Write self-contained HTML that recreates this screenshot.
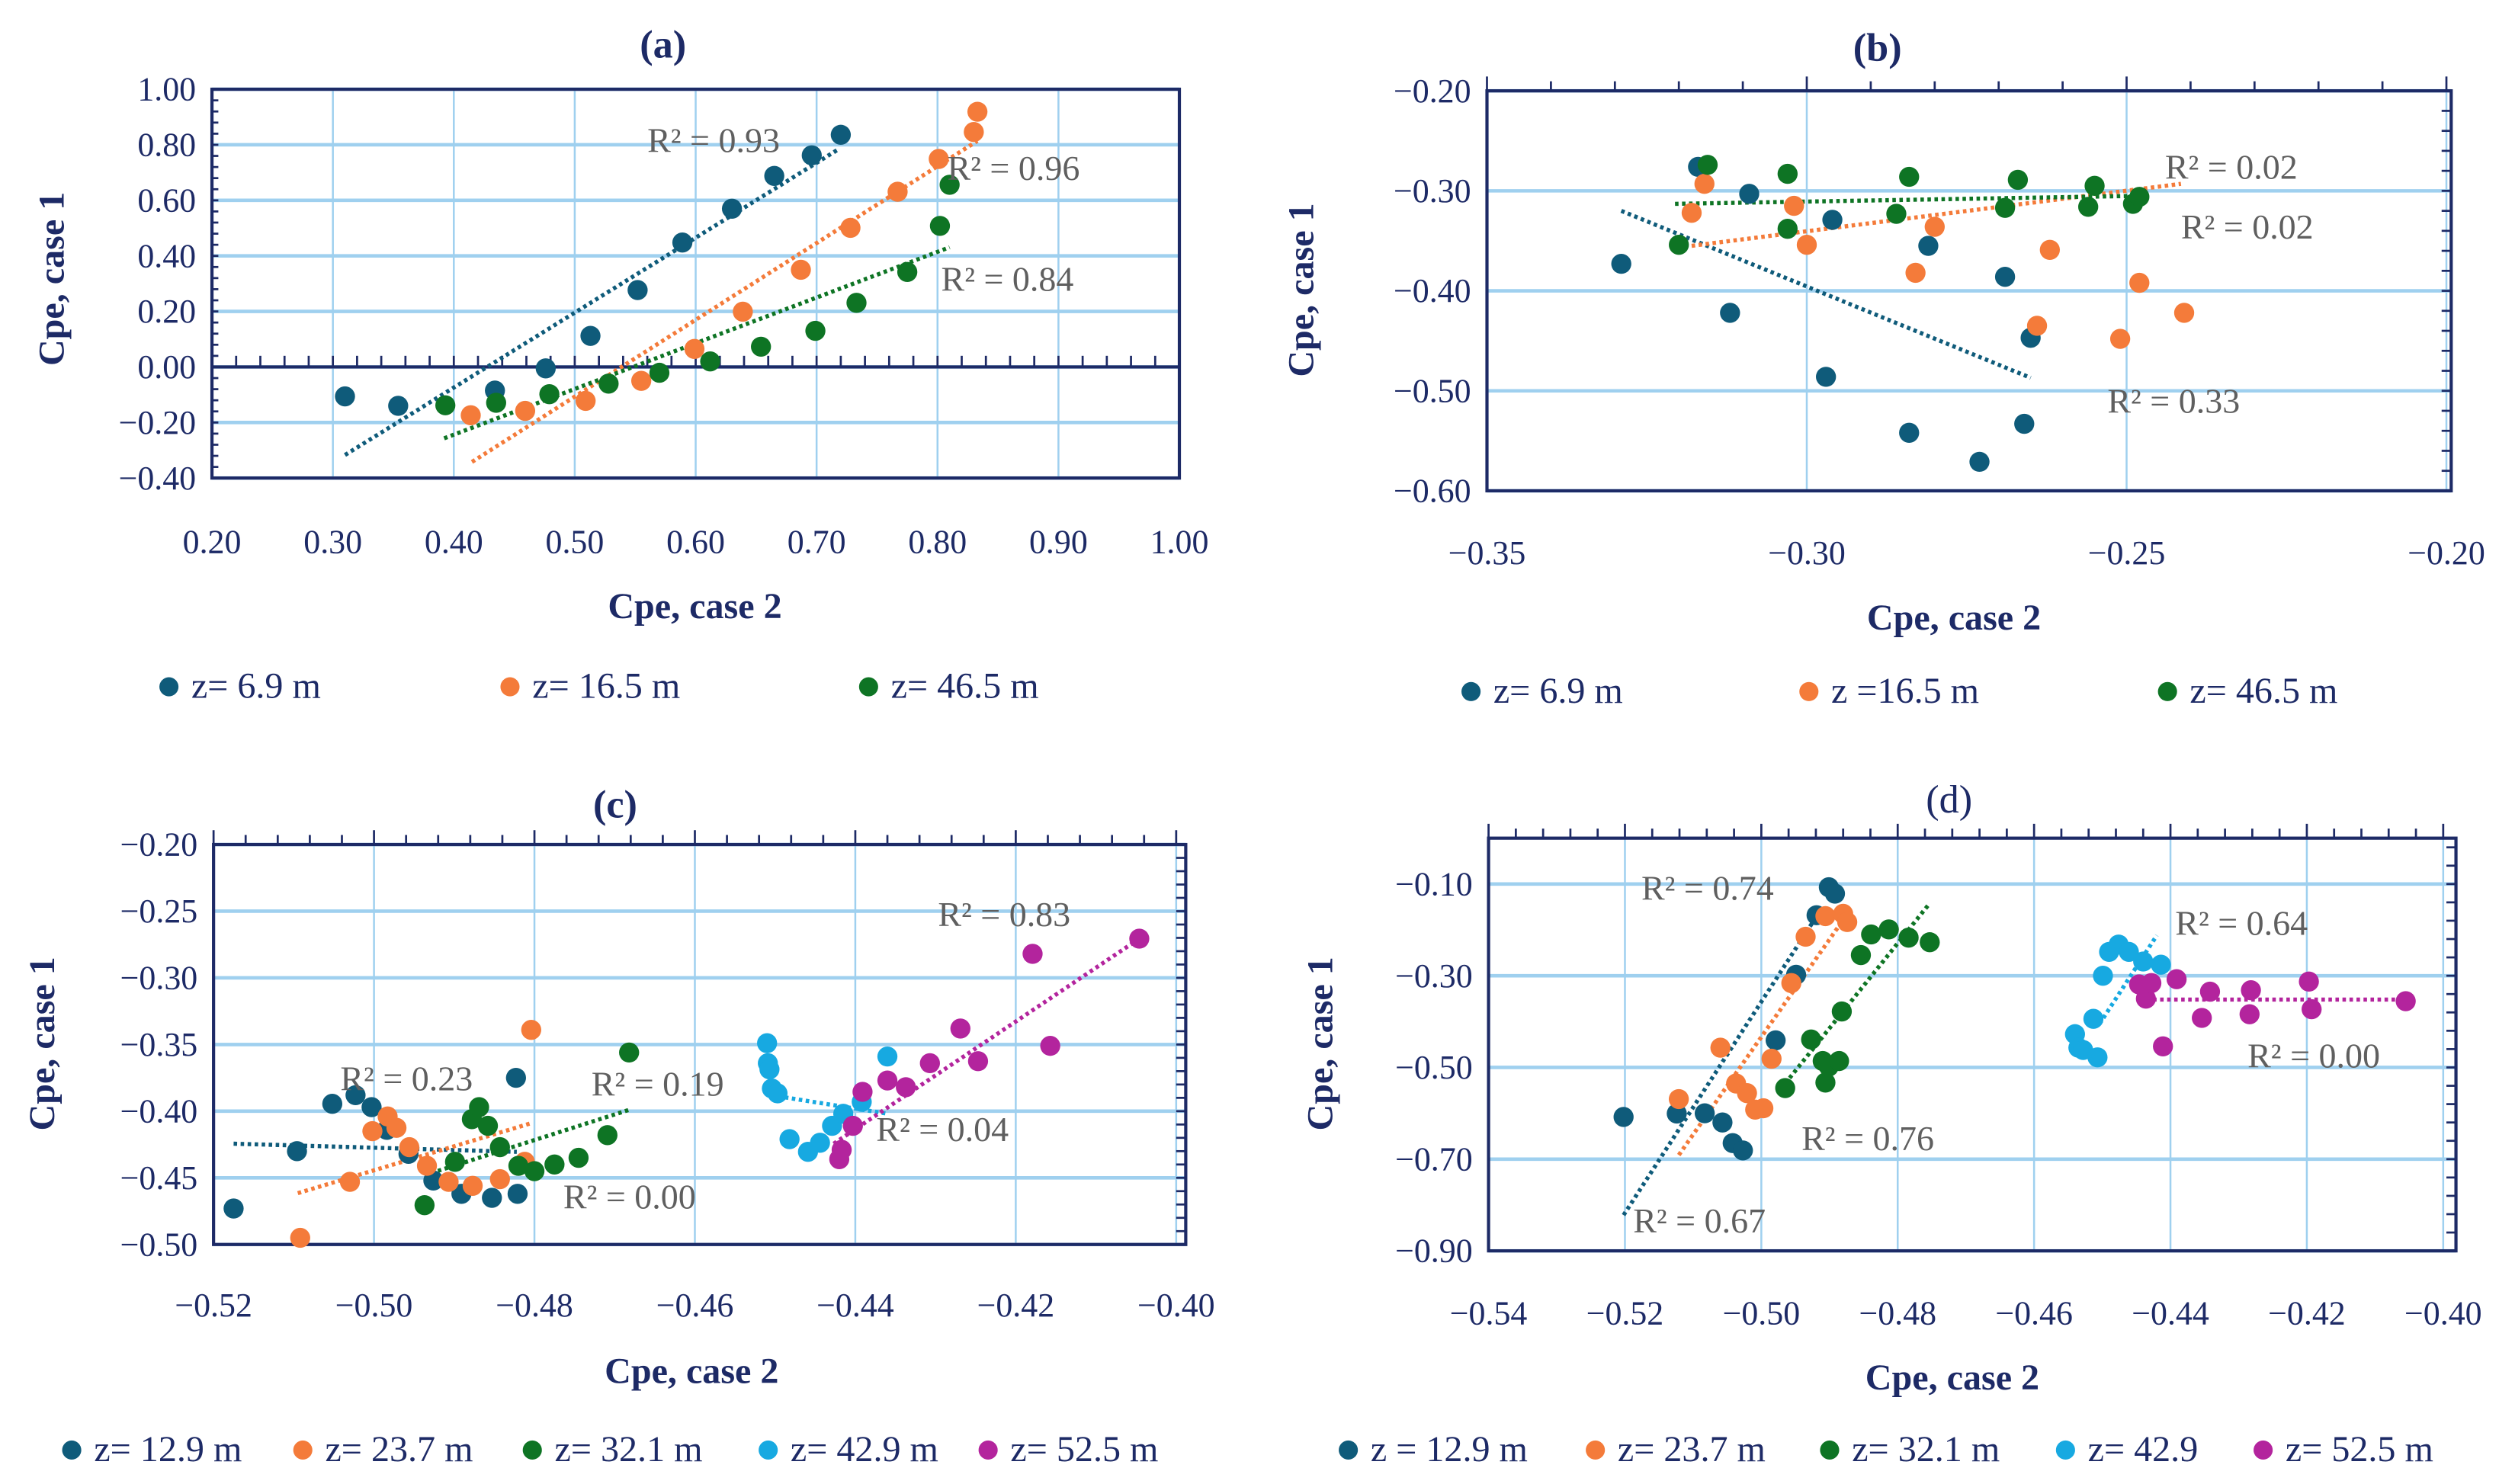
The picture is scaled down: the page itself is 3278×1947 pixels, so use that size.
<!DOCTYPE html>
<html><head><meta charset="utf-8"><style>
html,body{margin:0;padding:0;background:#fff}
svg{display:block}
text{font-family:"Liberation Serif",serif}
</style></head><body>
<svg id="fig" width="3278" height="1947" viewBox="0 0 1568 931.3" xmlns="http://www.w3.org/2000/svg"></svg>
<script>
// ---------- DATA ----------
const colBlue="#0f5b7a", colOrange="#f47b3a", colGreen="#0e7424", colCyan="#17a9e1", colMag="#b3249d";
// panel a
const aBlueX=[0.310,0.354,0.434,0.476,0.513,0.552,0.589,0.630,0.665,0.696,0.720];
const aBlueY=[-0.106,-0.140,-0.085,-0.005,0.112,0.277,0.448,0.570,0.688,0.762,0.836];
const aOrX=[0.414,0.459,0.509,0.555,0.599,0.639,0.687,0.728,0.767,0.801,0.830,0.833];
const aOrY=[-0.174,-0.158,-0.122,-0.050,0.065,0.199,0.350,0.501,0.631,0.749,0.846,0.919];
const aGrX=[0.393,0.435,0.479,0.528,0.570,0.612,0.654,0.699,0.733,0.775,0.802,0.810];
const aGrY=[-0.138,-0.129,-0.098,-0.060,-0.021,0.020,0.073,0.130,0.231,0.342,0.508,0.656];
// panel b
const bBlueX=[-0.329,-0.317,-0.309,-0.312,-0.297,-0.296,-0.284,-0.281,-0.273,-0.269,-0.266,-0.265];
const bBlueY=[-0.373,-0.276,-0.303,-0.422,-0.486,-0.329,-0.542,-0.355,-0.571,-0.386,-0.533,-0.447];
const bOrX=[-0.318,-0.316,-0.302,-0.300,-0.283,-0.280,-0.264,-0.262,-0.251,-0.248,-0.241];
const bOrY=[-0.322,-0.293,-0.315,-0.354,-0.382,-0.336,-0.435,-0.359,-0.448,-0.392,-0.422];
const bGrX=[-0.320,-0.3155,-0.303,-0.303,-0.286,-0.284,-0.269,-0.267,-0.256,-0.255,-0.249,-0.248];
const bGrY=[-0.354,-0.274,-0.283,-0.338,-0.323,-0.286,-0.317,-0.289,-0.316,-0.295,-0.313,-0.306];
// panel c
const cBlueX=[-0.5175,-0.5096,-0.5052,-0.5023,-0.5003,-0.4984,-0.4957,-0.4926,-0.4891,-0.4853,-0.4823,-0.4821];
const cBlueY=[-0.473,-0.430,-0.3945,-0.388,-0.397,-0.414,-0.432,-0.452,-0.462,-0.465,-0.375,-0.462];
const cOrX=[-0.5092,-0.503,-0.5002,-0.4983,-0.4972,-0.4956,-0.4934,-0.4907,-0.4877,-0.4843,-0.4812,-0.4804];
const cOrY=[-0.495,-0.453,-0.415,-0.404,-0.4125,-0.427,-0.441,-0.453,-0.456,-0.451,-0.438,-0.339];
const cGrX=[-0.4937,-0.4899,-0.4878,-0.4869,-0.4858,-0.4843,-0.482,-0.48,-0.4775,-0.4745,-0.4709,-0.4682];
const cGrY=[-0.4705,-0.438,-0.406,-0.397,-0.411,-0.427,-0.441,-0.445,-0.440,-0.435,-0.418,-0.356];
const cCyX=[-0.451,-0.4509,-0.4507,-0.4504,-0.4497,-0.4482,-0.4459,-0.4444,-0.4429,-0.4415,-0.4392,-0.436];
const cCyY=[-0.349,-0.364,-0.3686,-0.383,-0.3866,-0.421,-0.4305,-0.4237,-0.411,-0.402,-0.393,-0.359];
const cMgX=[-0.442,-0.4417,-0.4403,-0.4391,-0.436,-0.4337,-0.4307,-0.4269,-0.4247,-0.4179,-0.4157,-0.4046];
const cMgY=[-0.436,-0.429,-0.411,-0.3855,-0.377,-0.382,-0.364,-0.338,-0.3625,-0.282,-0.351,-0.2706];
// panel d
const dBlueX=[-0.5202,-0.5124,-0.5083,-0.5057,-0.5042,-0.5027,-0.4979,-0.4949,-0.4919,-0.4901,-0.4892];
const dBlueY=[-0.608,-0.6006,-0.600,-0.620,-0.665,-0.681,-0.441,-0.298,-0.168,-0.107,-0.121];
const dOrX=[-0.5121,-0.506,-0.5037,-0.5021,-0.5009,-0.4997,-0.4985,-0.4956,-0.4935,-0.4906,-0.488,-0.4874];
const dOrY=[-0.569,-0.457,-0.535,-0.556,-0.592,-0.589,-0.481,-0.316,-0.215,-0.170,-0.165,-0.183];
const dGrX=[-0.4965,-0.4927,-0.491,-0.4906,-0.4901,-0.4886,-0.4882,-0.4854,-0.4839,-0.4813,-0.4784,-0.4753];
const dGrY=[-0.545,-0.439,-0.486,-0.533,-0.498,-0.486,-0.378,-0.255,-0.210,-0.199,-0.217,-0.227];
const dCyX=[-0.454,-0.4535,-0.4528,-0.4507,-0.4513,-0.4499,-0.4490,-0.4476,-0.4461,-0.444,-0.4414];
const dCyY=[-0.4275,-0.457,-0.462,-0.478,-0.394,-0.300,-0.248,-0.232,-0.248,-0.269,-0.276];
const dMgX=[-0.4446,-0.4436,-0.4428,-0.4411,-0.4391,-0.4354,-0.4342,-0.4284,-0.4282,-0.4197,-0.4193,-0.4055];
const dMgY=[-0.319,-0.350,-0.316,-0.454,-0.3076,-0.392,-0.3347,-0.384,-0.3316,-0.3128,-0.373,-0.3555];
// trendlines [x1,y1,x2,y2]
const aTrend=[[0.31,-0.317,0.717,0.781],[0.415,-0.342,0.833,0.814],[0.392,-0.257,0.810,0.431]];
const bTrend=[[-0.329,-0.320,-0.265,-0.487],[-0.318,-0.355,-0.2415,-0.293],[-0.3206,-0.313,-0.248,-0.305]];
const cTrend=[[-0.5175,-0.4244,-0.4822,-0.4305],[-0.5095,-0.4615,-0.4804,-0.409],[-0.4937,-0.448,-0.4682,-0.399],[-0.4505,-0.388,-0.4362,-0.4017],[-0.4427,-0.4244,-0.4045,-0.2702]];
const dTrend=[[-0.5202,-0.822,-0.4921,-0.175],[-0.5121,-0.691,-0.4886,-0.191],[-0.4965,-0.535,-0.4753,-0.142],[-0.4504,-0.405,-0.442,-0.212],[-0.4446,-0.352,-0.4055,-0.352]];
// R² labels [x,y,text]
const aR2=[[0.56,0.82,"0.93"],[0.808,0.72,"0.96"],[0.803,0.32,"0.84"]];
const bR2=[[-0.244,-0.275,"0.02"],[-0.2415,-0.335,"0.02"],[-0.253,-0.509,"0.33"]];
const cR2=[[-0.4297,-0.2515,"0.83"],[-0.5042,-0.3747,"0.23"],[-0.4729,-0.3787,"0.19"],[-0.4374,-0.4129,"0.04"],[-0.4764,-0.4633,"0.00"]];
const dR2=[[-0.5176,-0.107,"0.74"],[-0.4393,-0.183,"0.64"],[-0.4287,-0.472,"0.00"],[-0.4941,-0.653,"0.76"],[-0.5188,-0.832,"0.67"]];
// tick labels
const aXTicks=["0.20","0.30","0.40","0.50","0.60","0.70","0.80","0.90","1.00"];
const aYTicks=["1.00","0.80","0.60","0.40","0.20","0.00","−0.20","−0.40"];
const bXTicks=["−0.35","−0.30","−0.25","−0.20"];
const bYTicks=["−0.20","−0.30","−0.40","−0.50","−0.60"];
const cXTicks=["−0.52","−0.50","−0.48","−0.46","−0.44","−0.42","−0.40"];
const cYTicks=["−0.20","−0.25","−0.30","−0.35","−0.40","−0.45","−0.50"];
const dXTicks=["−0.54","−0.52","−0.50","−0.48","−0.46","−0.44","−0.42","−0.40"];
const dYTicks=["−0.10","−0.30","−0.50","−0.70","−0.90"];

// ---------- DRAW ----------
const svg=document.getElementById('fig');
const NS="http://www.w3.org/2000/svg";
function mk(tag,attrs,parent){const e=document.createElementNS(NS,tag);for(const k in attrs)e.setAttribute(k,attrs[k]);(parent||svg).appendChild(e);return e;}
const NAVY="#1d2a66", GRID="#9fd0ef";

function panel(P){
  const g=mk('g',{});
  
  
  const sx=v=>P.x0+(v-P.xmin)/(P.xmax-P.xmin)*(P.x1-P.x0);
  const sy=v=>P.y1-(v-P.ymin)/(P.ymax-P.ymin)*(P.y1-P.y0);
  // grid
  for(let v=P.xmin;v<=P.xmax+1e-9;v+=P.gx){const l=mk('line',{x1:sx(v),x2:sx(v),y1:P.y0,y2:P.y1,stroke:GRID,'stroke-width':1.2},g);}
  for(let v=P.ymin;v<=P.ymax+1e-9;v+=P.gy){const l=mk('line',{x1:P.x0,x2:P.xr,y1:sy(v),y2:sy(v),stroke:GRID,'stroke-width':2.2},g);}
  // frame
  const fr=mk('rect',{x:P.x0,y:P.y0,width:P.xr-P.x0,height:P.y1-P.y0,fill:'none',stroke:NAVY,'stroke-width':2},g);
  
  // minor ticks
  if(P.topTicks){for(let v=P.xmin;v<=P.xmax+1e-9;v+=P.topTicks){const t=mk('line',{x1:sx(v),x2:sx(v),y1:P.y0,y2:P.y0-(Math.abs(((v-P.xmin)/P.gx)-Math.round((v-P.xmin)/P.gx))<1e-6?9:6),stroke:NAVY,'stroke-width':1.3},g);}}
  if(P.rightTicks){for(let v=P.ymin;v<=P.ymax+1e-9;v+=P.rightTicks){const t=mk('line',{x1:P.xr,x2:P.xr-6,y1:sy(v),y2:sy(v),stroke:NAVY,'stroke-width':1.3},g);}}
  if(P.leftTicks){for(let v=P.ymin;v<=P.ymax+1e-9;v+=P.leftTicks){const t=mk('line',{x1:P.x0,x2:P.x0+4,y1:sy(v),y2:sy(v),stroke:NAVY,'stroke-width':1.3},g);}}
  if(P.zeroLine){const zl=mk('line',{x1:P.x0,x2:P.xr,y1:sy(0),y2:sy(0),stroke:NAVY,'stroke-width':2},g);
    for(let v=P.xmin;v<=P.xmax+1e-9;v+=0.02){const t=mk('line',{x1:sx(v),x2:sx(v),y1:sy(0),y2:sy(0)-7,stroke:NAVY,'stroke-width':1.3},g);}}
  // tick labels
  P.xt.forEach((s,i)=>{const v=P.xmin+i*P.xlStep;const t=mk('text',{x:sx(v),y:P.xly,'text-anchor':'middle','font-size':21,fill:NAVY},g);t.textContent=s;});
  P.yt.forEach((s,i)=>{const v=P.ylTop-i*P.ylStep;const t=mk('text',{x:P.x0-10,y:sy(v)+7,'text-anchor':'end','font-size':21,fill:NAVY},g);t.textContent=s;});
  // trendlines
  P.trend.forEach((tr,i)=>{const l=mk('line',{x1:sx(tr[0]),y1:sy(tr[1]),x2:sx(tr[2]),y2:sy(tr[3]),stroke:P.cols[i],'stroke-width':2.6,'stroke-dasharray':'2.2 2.2'},g);});
  // points
  P.series.forEach((s,i)=>{s[0].forEach((xv,j)=>{const c=mk('circle',{cx:sx(xv),cy:sy(s[1][j]),r:6.3,fill:P.cols[i]},g);});});
  // R2
  P.r2.forEach(r=>{const t=mk('text',{x:sx(r[0]),y:sy(r[1])+8,'font-size':22,fill:'#5f5f5f'},g);t.textContent="R² = "+r[2];});
  // titles
  const ti=mk('text',{x:P.tx,y:P.ty,'text-anchor':'middle','font-size':25,'font-weight':P.tb?'bold':'normal',fill:NAVY},g);ti.textContent=P.title;
  const xa=mk('text',{x:P.xax,y:P.xay,'text-anchor':'middle','font-size':23,'font-weight':'bold',fill:NAVY},g);xa.textContent="Cpe, case 2";
  const ya=mk('text',{x:0,y:0,'text-anchor':'middle','font-size':23,'font-weight':'bold',fill:NAVY,transform:`translate(${P.yax},${P.yay}) rotate(-90)`},g);ya.textContent="Cpe, case 1";
  // legend
  P.leg.forEach((L,i)=>{const c=mk('circle',{cx:L[0],cy:P.legy-7,r:6,fill:P.cols[i]},g);
    const t=mk('text',{x:L[0]+14,y:P.legy,'font-size':23,fill:NAVY},g);t.textContent=L[1];});
}
const c3=[colBlue,colOrange,colGreen], c5=[colBlue,colOrange,colGreen,colCyan,colMag];
panel({id:'a',x0:133,x1:740,xr:740,y0:56,y1:300,xmin:0.2,xmax:1.0,ymin:-0.4,ymax:1.0,gx:0.1,gy:0.2,
  leftTicks:0.04,zeroLine:true,xt:aXTicks,xlStep:0.1,xly:347,yt:aYTicks,ylTop:1.0,ylStep:0.2,
  trend:aTrend,cols:c3,series:[[aBlueX,aBlueY],[aOrX,aOrY],[aGrX,aGrY]],r2:aR2,
  title:"(a)",tb:true,tx:416,ty:36,xax:436,xay:388,yax:40,yay:175,legy:438,
  leg:[[106,"z= 6.9 m"],[320,"z= 16.5 m"],[545,"z= 46.5 m"]]});
panel({id:'b',x0:933,x1:1535,xr:1538,y0:57,y1:308,xmin:-0.35,xmax:-0.20,ymin:-0.6,ymax:-0.2,gx:0.05,gy:0.1,
  topTicks:0.01,rightTicks:0.02,xt:bXTicks,xlStep:0.05,xly:354,yt:bYTicks,ylTop:-0.2,ylStep:0.1,
  trend:bTrend,cols:c3,series:[[bBlueX,bBlueY],[bOrX,bOrY],[bGrX,bGrY]],r2:bR2,
  title:"(b)",tb:true,tx:1178,ty:38,xax:1226,xay:395,yax:824,yay:182,legy:441,
  leg:[[923,"z= 6.9 m"],[1135,"z =16.5 m"],[1360,"z= 46.5 m"]]});
panel({id:'c',x0:134,x1:738,xr:744,y0:530,y1:781,xmin:-0.52,xmax:-0.40,ymin:-0.5,ymax:-0.2,gx:0.02,gy:0.05,
  topTicks:0.004,rightTicks:0.01,xt:cXTicks,xlStep:0.02,xly:826,yt:cYTicks,ylTop:-0.2,ylStep:0.05,
  trend:cTrend,cols:c5,series:[[cBlueX,cBlueY],[cOrX,cOrY],[cGrX,cGrY],[cCyX,cCyY],[cMgX,cMgY]],r2:cR2,
  title:"(c)",tb:true,tx:386,ty:513,xax:434,xay:868,yax:34,yay:655,legy:917,
  leg:[[45,"z= 12.9 m"],[190,"z= 23.7 m"],[334,"z= 32.1 m"],[482,"z= 42.9 m"],[620,"z= 52.5 m"]]});
panel({id:'d',x0:934,x1:1533,xr:1541,y0:526,y1:785,xmin:-0.54,xmax:-0.40,ymin:-0.9,ymax:0.0,gx:0.02,gy:0.2,
  topTicks:0.004,rightTicks:0.04,xt:dXTicks,xlStep:0.02,xly:831,yt:dYTicks,ylTop:-0.1,ylStep:0.2,
  trend:dTrend,cols:c5,series:[[dBlueX,dBlueY],[dOrX,dOrY],[dGrX,dGrY],[dCyX,dCyY],[dMgX,dMgY]],r2:dR2,
  title:"(d)",tb:false,tx:1223,ty:510,xax:1225,xay:872,yax:836,yay:655,legy:917,
  leg:[[846,"z = 12.9 m"],[1001,"z= 23.7 m"],[1148,"z= 32.1 m"],[1296,"z= 42.9"],[1420,"z= 52.5 m"]]});
// fix y-gridlines overshoot beyond plot ranges for panel d (0.2 step from -0.9)
</script>
</body></html>
